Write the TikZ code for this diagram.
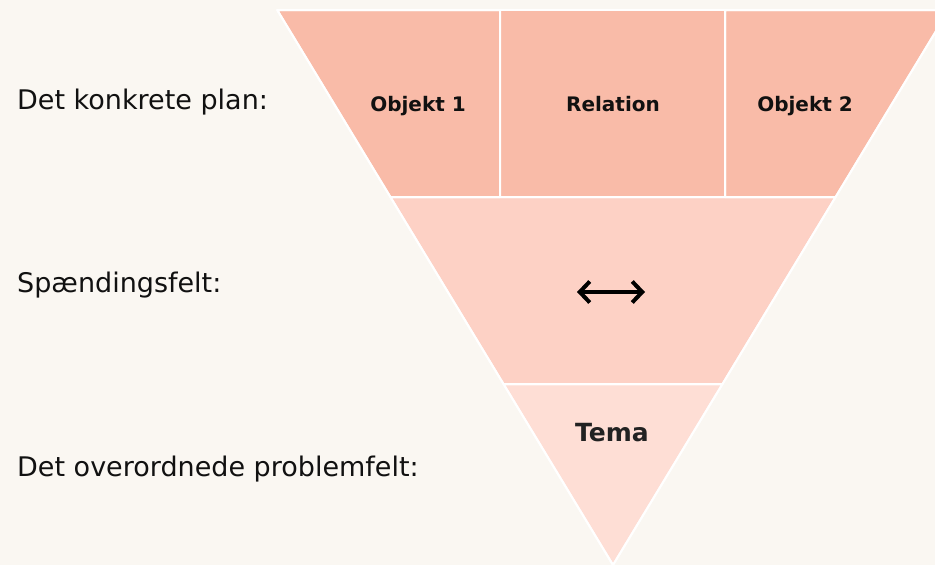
\documentclass[tikz,border=0pt]{standalone}
\usepackage{fontspec}
\setmainfont{DejaVu Sans}
\usetikzlibrary{arrows.meta}
\definecolor{bg}{HTML}{FAF7F2}
\definecolor{bandtop}{HTML}{F9BBA8}
\definecolor{bandmid}{HTML}{FDD1C5}
\definecolor{bandlow}{HTML}{FEDED5}
\definecolor{ink}{HTML}{111111}
\definecolor{inkgrey}{HTML}{222222}

\begin{document}
\begin{tikzpicture}[x = 1pt, y = -1pt]
% Styles ---
\tikzstyle{band} = [draw = white, line width = 2pt, line join = round] % Layers of the funnel
\tikzstyle{lbl} = [anchor = base west, inner sep = 0pt, text = ink, font = \fontsize{27}{30}\selectfont] % Level names
\tikzstyle{cell} = [anchor = base, inner sep = 0pt, text = ink, font = \bfseries\fontsize{20}{24}\selectfont] % Top cells
\tikzstyle{theme} = [anchor = base, inner sep = 0pt, text = inkgrey, font = \bfseries\fontsize{25}{30}\selectfont] % Theme
\tikzstyle{con} = [{Straight Barb[length = 10pt, width = 21pt, line width = 4pt]}-{Straight Barb[length = 10pt, width = 21pt, line width = 4pt]}, line width = 3.5pt, draw = black] % Tension
% Canvas ---
\fill [bg] (0,0) rectangle (935,565);
\useasboundingbox (0,0) rectangle (935,565);
\clip (0,0) rectangle (935,565);
% Corners
\coordinate (tl) at (277.2,10);
\coordinate (tr) at (948.8,10);
\coordinate (ml) at (390.4,197);
\coordinate (mr) at (835.6,197);
\coordinate (bl) at (503.5,384);
\coordinate (br) at (722.5,384);
\coordinate (tip) at (613,565);
\coordinate (d1t) at (500,10);
\coordinate (d1b) at (500,197);
\coordinate (d2t) at (725,10);
\coordinate (d2b) at (725,197);
% Layers
\fill [band, fill = bandtop] (tl) -- (d1t) -- (d1b) -- (ml) -- cycle;
\fill [band, fill = bandtop] (d1t) -- (d2t) -- (d2b) -- (d1b) -- cycle;
\fill [band, fill = bandtop] (d2t) -- (tr) -- (mr) -- (d2b) -- cycle;
\fill [band, fill = bandmid] (ml) -- (mr) -- (br) -- (bl) -- cycle;
\fill [band, fill = bandlow] (bl) -- (br) -- (tip) -- cycle;
\draw [band] (tl) -- (d1t) -- (d1b) -- (ml) -- cycle;
\draw [band] (d1t) -- (d2t) -- (d2b) -- (d1b) -- cycle;
\draw [band] (d2t) -- (tr) -- (mr) -- (d2b) -- cycle;
\draw [band] (ml) -- (mr) -- (br) -- (bl) -- cycle;
\draw [band] (bl) -- (br) -- (tip) -- cycle;
% Nodes
\node at (17,109) [lbl] (plan) {Det konkrete plan:};
\node at (17,292) [lbl] (felt) {Spændingsfelt:};
\node at (17,476) [lbl] (problem) {Det overordnede problemfelt:};
\node at (418,111) [cell] (obj1) {Objekt 1};
\node at (613,111) [cell] (rel) {Relation};
\node at (805,111) [cell] (obj2) {Objekt 2};
\node at (612,441) [theme] (tema) {Tema};
\coordinate (arrl) at (577,292);
\coordinate (arrr) at (645,292);
% Paths
\path (arrl) edge [con] (arrr);
\end{tikzpicture}
\end{document}
